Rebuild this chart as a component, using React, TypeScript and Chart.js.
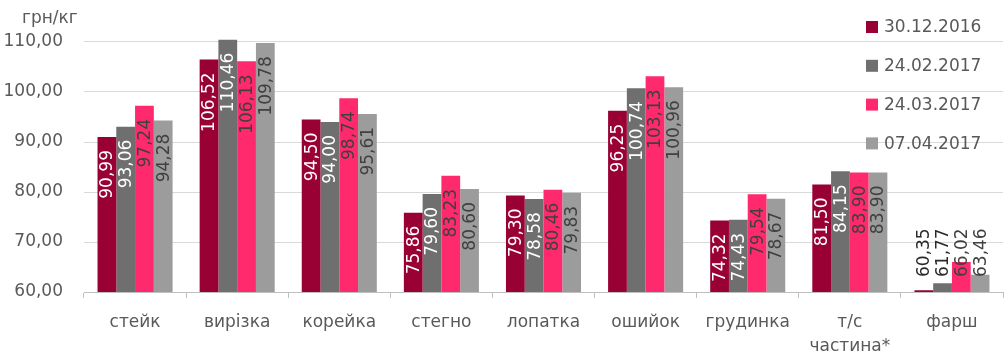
import React, { useEffect, useRef } from 'react';
import { Chart, registerables } from 'chart.js';

Chart.register(...registerables);

const FONT = '"DejaVu Sans", sans-serif';

const categories: (string | string[])[] = [
  'стейк', 'вирізка', 'корейка', 'стегно', 'лопатка', 'ошийок', 'грудинка', ['т/с', 'частина*'], 'фарш',
];
const seriesNames = ['30.12.2016', '24.02.2017', '24.03.2017', '07.04.2017'];
const s20161230 = [90.99, 106.52, 94.5, 75.86, 79.3, 96.25, 74.32, 81.5, 60.35];
const s20170224 = [93.06, 110.46, 94.0, 79.6, 78.58, 100.74, 74.43, 84.15, 61.77];
const s20170324 = [97.24, 106.13, 98.74, 83.23, 80.46, 103.13, 79.54, 83.9, 66.02];
const s20170407 = [94.28, 109.78, 95.61, 80.6, 79.83, 100.96, 78.67, 83.9, 63.46];
const yTickValues = [60, 70, 80, 90, 100, 110];
const unitLabel = 'грн/кг';

const seriesColors = ['#990033', '#6f6f6f', '#ff2a6e', '#9c9c9c'];
const insideLabelColors = ['#ffffff', '#ffffff', '#404040', '#404040'];
const outsideLabelColor = '#2a2a2a';
const axisText = '#595959';

const fmt = (v: number) => v.toFixed(2).replace('.', ',');

const barLabelsPlugin = {
  id: 'barLabels',
  afterDatasetsDraw(chart: any) {
    const ctx = chart.ctx;
    const axisBottom = chart.chartArea.bottom;
    ctx.save();
    ctx.font = `17px ${FONT}`;
    chart.data.datasets.forEach((ds: any, di: number) => {
      const meta = chart.getDatasetMeta(di);
      meta.data.forEach((bar: any, i: number) => {
        const v = ds.data[i] as number;
        const text = fmt(v);
        const w = ctx.measureText(text).width;
        const { x, y } = bar.getProps(['x', 'y'], true);
        const base = axisBottom;
        const len = base - y;
        let end: number;
        let color: string;
        if (len >= w + 18) {
          end = y + 13;
          color = insideLabelColors[di];
        } else {
          end = base - w - 15;
          color = di >= 2 ? '#404040' : outsideLabelColor;
        }
        ctx.save();
        ctx.translate(x, end);
        ctx.rotate(-Math.PI / 2);
        ctx.textAlign = 'right';
        ctx.textBaseline = 'middle';
        ctx.fillStyle = color;
        ctx.fillText(text, 0, 1);
        ctx.restore();
      });
    });
    ctx.restore();
  },
};

const legendPlugin = {
  id: 'sideLegend',
  afterDraw(chart: any) {
    const ctx = chart.ctx;
    ctx.save();
    ctx.font = `17px ${FONT}`;
    ctx.textBaseline = 'middle';
    ctx.textAlign = 'left';
    seriesNames.forEach((name, i) => {
      const cy = 27 + i * 38.8;
      ctx.fillStyle = seriesColors[i];
      ctx.fillRect(866, cy - 6, 12, 12);
      ctx.fillStyle = axisText;
      ctx.fillText(name, 884, cy + 1);
    });
    ctx.fillText(unitLabel, 22, 19);
    ctx.restore();
  },
};

export default function App() {
  const ref = useRef<HTMLCanvasElement>(null);
  useEffect(() => {
    document.body.style.margin = '0';
    if (!ref.current) return;
    const chart = new Chart(ref.current, {
      type: 'bar',
      data: {
        labels: categories as any,
        datasets: [s20161230, s20170224, s20170324, s20170407].map((d, i) => ({
          label: seriesNames[i],
          data: d,
          backgroundColor: seriesColors[i],
          borderWidth: 0,
          categoryPercentage: 0.735,
          barPercentage: 1.0,
        })),
      },
      options: {
        responsive: false,
        animation: false,
        devicePixelRatio: 1,
        layout: { padding: { top: 39, right: 1, left: 0, bottom: 0 } },
        plugins: { legend: { display: false }, tooltip: { enabled: false } },
        scales: {
          x: {
            offset: true,
            grid: {
              offset: true,
              drawOnChartArea: false,
              drawTicks: true,
              tickLength: 6,
              color: '#bfbfbf',
            },
            border: { color: '#bfbfbf', width: 1 },
            ticks: {
              color: axisText,
              font: { family: FONT, size: 17, lineHeight: 1.45 },
              padding: 12,
              maxRotation: 0,
              autoSkip: false,
            },
            afterFit(scale: any) {
              scale.height = 72;
            },
          },
          y: {
            min: 60,
            max: 110.6,
            grid: { color: '#d9d9d9', drawTicks: false, lineWidth: 1 },
            border: { display: false },
            ticks: {
              color: axisText,
              font: { family: FONT, size: 17 },
              padding: 21,
              callback: (v: any) => fmt(Number(v)),
            },
            afterBuildTicks(scale: any) {
              scale.ticks = yTickValues.map((v) => ({ value: v }));
            },
            afterFit(scale: any) {
              scale.width = 84;
            },
          },
        },
      },
      plugins: [barLabelsPlugin, legendPlugin],
    });
    return () => chart.destroy();
  }, []);
  return (
    <div style={{ width: 1004, height: 364 }}>
      <canvas ref={ref} width={1004} height={364} />
    </div>
  );
}
